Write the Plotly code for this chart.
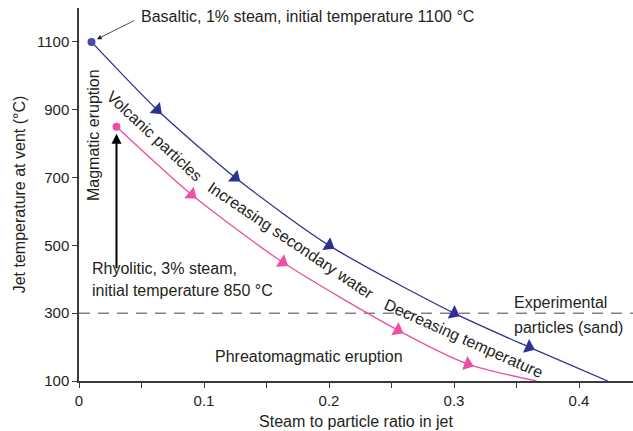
import numpy as np
import plotly.graph_objects as go

# ---- data ----
basalt_x = [0.01, 0.0625, 0.125, 0.2, 0.3, 0.36, 0.423]
basalt_y = [1100, 900, 700, 500, 300, 200, 100]
basalt_arrows = [1, 2, 3, 4, 5]          # indices of points carrying direction arrows

rhyo_x = [0.03, 0.09, 0.163, 0.255, 0.311, 0.366]
rhyo_y = [850, 650, 450, 250, 150, 100]
rhyo_arrows = [1, 2, 3, 4]

experimental_temp = 300
x_range = [0, 0.4432]
y_range = [100, 1200]
y_ticks = [100, 300, 500, 700, 900, 1100]
x_ticks = [0, 0.1, 0.2, 0.3, 0.4]
x_ticklabels = ["0", "0.1", "0.2", "0.3", "0.4"]

W, H = 633, 431
M = dict(l=79, r=0, t=8, b=50)
FONT = "Liberation Sans, Arial, Helvetica, sans-serif"
TXT = "#231f20"
BLUE = "#2e3192"
BLUE_DOT = "#4b4ba8"
PINK = "#ec4fa3"

pw = W - M["l"] - M["r"]
ph = H - M["t"] - M["b"]
sx = pw / (x_range[1] - x_range[0])
sy = ph / (y_range[1] - y_range[0])


def arrow_angles(xs, ys, idx):
    out = []
    for i in idx:
        j0, j1 = max(i - 1, 0), min(i + 1, len(xs) - 1)
        dx = (xs[j1] - xs[j0]) * sx
        dyd = -(ys[j1] - ys[j0]) * sy
        out.append(float(np.degrees(np.arctan2(dx, -dyd))))
    return out


fig = go.Figure()

# dashed experimental line
fig.add_trace(go.Scatter(x=x_range, y=[experimental_temp] * 2, mode="lines",
                         line=dict(color="#444444", width=1, dash="11px,8px"),
                         hoverinfo="skip", showlegend=False))

for xs, ys, idx, col, dot in [(basalt_x, basalt_y, basalt_arrows, BLUE, BLUE_DOT),
                              (rhyo_x, rhyo_y, rhyo_arrows, PINK, PINK)]:
    fig.add_trace(go.Scatter(x=xs, y=ys, mode="lines",
                             line=dict(color=col, width=1.3, shape="spline", smoothing=0.7),
                             showlegend=False, hoverinfo="skip"))
    fig.add_trace(go.Scatter(x=[xs[0]], y=[ys[0]], mode="markers",
                             marker=dict(color=dot, size=8, symbol="circle"),
                             showlegend=False))
    fig.add_trace(go.Scatter(x=[xs[i] for i in idx], y=[ys[i] for i in idx], mode="markers",
                             marker=dict(color=col, size=13, symbol="triangle-up",
                                         angle=arrow_angles(xs, ys, idx)),
                             showlegend=False))


def px2data(px, py):
    return x_range[0] + (px - M["l"]) / sx, y_range[0] + (M["t"] + ph - py) / sy


anns = []


def text(px, py, s, angle=0, xanchor="center", size=16):
    x, y = px2data(px, py)
    anns.append(dict(x=x, y=y, xref="x", yref="y", text=s, showarrow=False,
                     textangle=angle, xanchor=xanchor, yanchor="middle",
                     font=dict(family=FONT, size=size, color=TXT)))


text(139, 16, "Basaltic, 1% steam, initial temperature 1100 °C", xanchor="left")
text(93, 135, "Magmatic eruption", angle=-90)
text(155, 136, "Volcanic particles", angle=43)
text(291, 240, "Increasing secondary water", angle=34)
text(464, 338, "Decreasing temperature", angle=24)
text(90, 268, "Rhyolitic, 3% steam,", xanchor="left")
text(90, 290, "initial temperature 850 °C", xanchor="left")
text(512, 302, "Experimental", xanchor="left")
text(512, 327, "particles (sand)", xanchor="left")
text(309, 356, "Phreatomagmatic eruption")

# arrows
anns.append(dict(x=basalt_x[0], y=basalt_y[0], xref="x", yref="y", ax=44, ay=-22,
                 text="", showarrow=True, arrowhead=2, arrowsize=1.2, arrowwidth=0.8,
                 arrowcolor=TXT, standoff=6))
anns.append(dict(x=rhyo_x[0], y=rhyo_y[0], xref="x", yref="y", ax=0, ay=143,
                 text="", showarrow=True, arrowhead=2, arrowsize=1, arrowwidth=2,
                 arrowcolor="#000000", standoff=7))

axis_common = dict(showline=True, linecolor="#3a3a3a", linewidth=1.5, showgrid=False,
                   zeroline=False, ticks="outside", ticklen=5, tickwidth=1,
                   tickcolor="#3a3a3a", tickfont=dict(family=FONT, size=15, color=TXT))

fig.update_layout(
    width=W, height=H, margin=M,
    paper_bgcolor="white", plot_bgcolor="white",
    annotations=anns,
    xaxis=dict(range=x_range, tickvals=x_ticks, ticktext=x_ticklabels,
               minor=dict(dtick=0.05, tick0=0, ticks="outside", ticklen=5,
                          tickcolor="#3a3a3a"),
               title=dict(text="Steam to particle ratio in jet", standoff=8,
                          font=dict(family=FONT, size=16, color=TXT)),
               **axis_common),
    yaxis=dict(range=y_range, tickvals=y_ticks,
               title=dict(text="Jet temperature at vent (°C)", standoff=7,
                          font=dict(family=FONT, size=16, color=TXT)),
               **axis_common),
)

fig.write_html("out.html")
